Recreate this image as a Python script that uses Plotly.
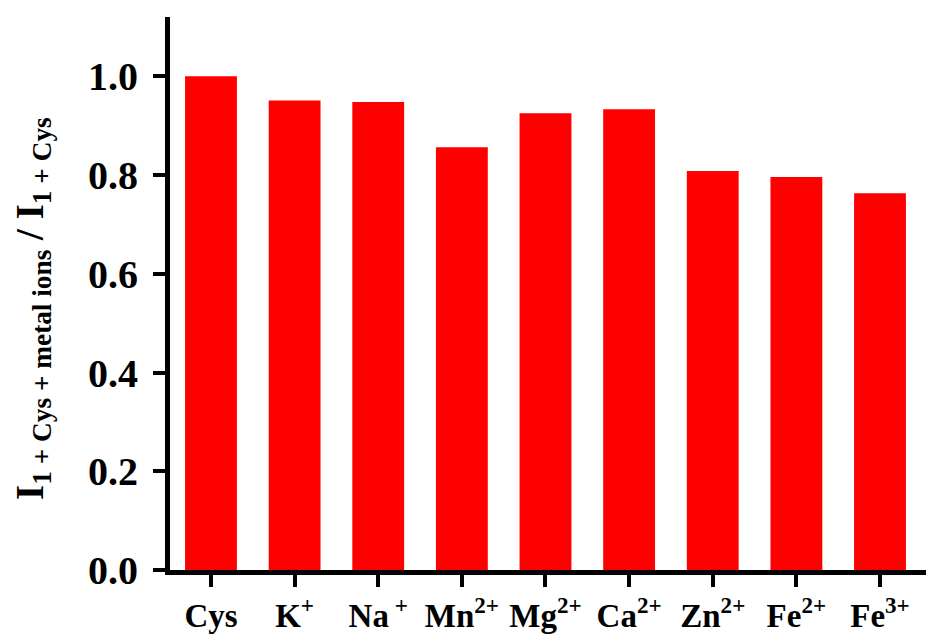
import plotly.graph_objects as go

categories = ["Cys", "K+", "Na+", "Mn2+", "Mg2+", "Ca2+", "Zn2+", "Fe2+", "Fe3+"]
tick_labels = ["Cys", "K<sup>+</sup>", "Na<sup> +</sup>", "Mn<sup>2+</sup>", "Mg<sup>2+</sup>",
               "Ca<sup>2+</sup>", "Zn<sup>2+</sup>", "Fe<sup>2+</sup>", "Fe<sup>3+</sup>"]
ratio = [1.000, 0.951, 0.948, 0.856, 0.925, 0.933, 0.808, 0.796, 0.763]
y_title = "<b>I<sub>1 + Cys + metal ions</sub> / I<sub>1 + Cys</sub></b>"

FONT = "Liberation Serif"

fig = go.Figure()
fig.add_trace(go.Bar(
    x=list(range(len(categories))),
    y=ratio,
    width=0.62,
    marker=dict(color="#ff0000", line=dict(width=0)),
))

fig.update_layout(
    width=926, height=634,
    margin=dict(l=170, r=0, t=17, b=62),
    paper_bgcolor="white", plot_bgcolor="white",
    showlegend=False,
    font=dict(family=FONT, color="black"),
)

fig.update_xaxes(
    range=[-0.49, 8.55],
    tickmode="array",
    tickvals=list(range(len(categories))),
    ticktext=["<b>%s</b>" % t for t in tick_labels],
    tickfont=dict(family=FONT, size=33, color="black"),
    showline=True, linecolor="black", linewidth=5,
    ticks="outside", ticklen=12, tickwidth=4, tickcolor="black",
    showgrid=False, zeroline=False,
)

fig.update_yaxes(
    range=[0, 1.12],
    tickmode="linear", tick0=0, dtick=0.2,
    tickformat=".1f",
    tickprefix="<b>", ticksuffix="</b>",
    tickfont=dict(family=FONT, size=40, color="black"),
    showline=True, linecolor="black", linewidth=5,
    ticks="outside", ticklen=12, tickwidth=4, tickcolor="black",
    ticklabelstandoff=7,
    showgrid=False, zeroline=False,
)

fig.add_annotation(
    text=y_title,
    xref="paper", yref="paper",
    x=(33 - 170) / 756, y=(572 - 310) / 555,
    xanchor="center", yanchor="middle",
    textangle=-90, showarrow=False,
    font=dict(family=FONT, size=39, color="black"),
)

fig.write_html("out.html")
